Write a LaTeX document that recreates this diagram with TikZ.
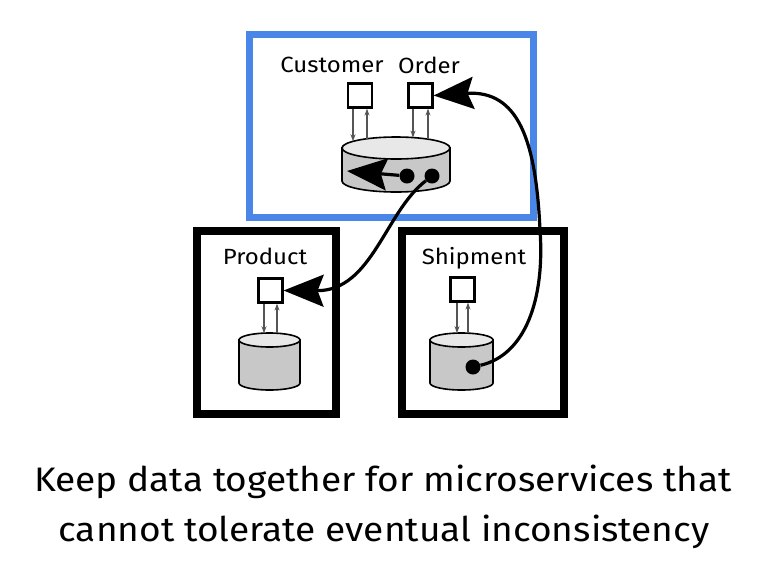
\documentclass[tikz,border=0pt]{standalone}
\usepackage{fontspec}
\setmainfont{Fira Sans}
\usetikzlibrary{arrows.meta}
\definecolor{boxblue}{RGB}{74,134,232}
\definecolor{cylbody}{RGB}{200,200,200}
\definecolor{cyltop}{RGB}{232,232,232}
\definecolor{thingray}{RGB}{85,85,85}
\newcommand\dbcyl[5]{%
  \filldraw[cyl, fill=cylbody] (#1-#3,#2) -- (#1-#3,#2+#5)
    arc[start angle=180,end angle=360,x radius=#3pt,y radius=#4pt] -- (#1+#3,#2) -- cycle;
  \filldraw[cyl, fill=cyltop] (#1,#2) ellipse[x radius=#3pt, y radius=#4pt];
}
\newcommand\widetext[1]{\scalebox{1.09}[1]{#1}}
\begin{document}
\begin{tikzpicture}[x=1pt,y=-1pt,
  frame/.style={line width=8pt},
  svc/.style={draw, line width=2.2pt, fill=white, minimum size=24pt, inner sep=0pt},
  lbl/.style={font=\fontsize{22}{26}\selectfont, inner sep=0pt},
  caption/.style={font=\fontsize{34}{40}\selectfont, inner sep=0pt},
  thinarrow/.style={draw=thingray, line width=1.2pt, -{Stealth[length=7pt,width=5pt]}},
  bigarrow/.style={line width=3.2pt, -{Stealth[length=40pt,width=32pt,inset=6pt]}},
  dot/.style={circle, fill=black, inner sep=0pt, minimum size=15pt},
  cyl/.style={draw, line width=1.6pt}
]
\useasboundingbox (0,0) rectangle (774,582);
\fill[white] (0,0) rectangle (774,582);

% service boundaries
\draw[frame, draw=boxblue, line width=7pt] (249,34) rectangle (533,217);
\draw[frame] (197,231) rectangle (336,414);
\draw[frame] (402,231) rectangle (564,414);

% databases
\dbcyl{396}{148}{54}{11}{33}
\dbcyl{269.5}{340}{30.5}{7}{43}
\dbcyl{461.5}{340}{31.5}{7}{43}

% services
\node[svc] (cs) at (360,95.5) {};
\node[svc] (os) at (420.5,95.5) {};
\node[svc] (ps) at (270.5,290.5) {};
\node[svc] (ss) at (462.5,289.5) {};

% labels
\node[lbl] (lc) at (332,65) {\widetext{Customer}};
\node[lbl] (lo) at (429,65) {\widetext{Order}};
\node[lbl] (lp) at (265,256) {\widetext{Product}};
\node[lbl] (ls) at (474,258) {\widetext{Shipment}};

% points on database tops
\coordinate (ct1) at (353,141.3);
\coordinate (ct2) at (367,138.7);
\coordinate (ot1) at (413,137.6);
\coordinate (ot2) at (428,139.1);
\coordinate (pt1) at (264,333.2);
\coordinate (pt2) at (277,333.3);
\coordinate (st1) at (457,333.1);
\coordinate (st2) at (468,333.2);

\draw[thinarrow] (cs.south -| ct1) -- (ct1);
\draw[thinarrow] (ct2) -- (cs.south -| ct2);
\draw[thinarrow] (os.south -| ot1) -- (ot1);
\draw[thinarrow] (ot2) -- (os.south -| ot2);
\draw[thinarrow] (ps.south -| pt1) -- (pt1);
\draw[thinarrow] (pt2) -- (ps.south -| pt2);
\draw[thinarrow] (ss.south -| st1) -- (st1);
\draw[thinarrow] (st2) -- (ss.south -| st2);

% dots
\node[dot] (d1) at (407,176) {};
\node[dot] (d2) at (432,176) {};
\node[dot] (d3) at (473,367) {};
\coordinate (tip) at (347,171);

% connectors
\draw[bigarrow] (d1) -- (tip);
\draw[bigarrow] (d2) .. controls (385,212) and (372,291) .. (ps.east);
\draw[bigarrow] (d3) .. controls (525,355) and (545,300) .. (540,230)
  .. controls (536,140) and (518,90) .. (os.east);

% caption
\node[caption] (t1) at (383,482) {\widetext{Keep data together for microservices that}};
\node[caption] (t2) at (384,532) {\widetext{cannot tolerate eventual inconsistency}};
\end{tikzpicture}
\end{document}
